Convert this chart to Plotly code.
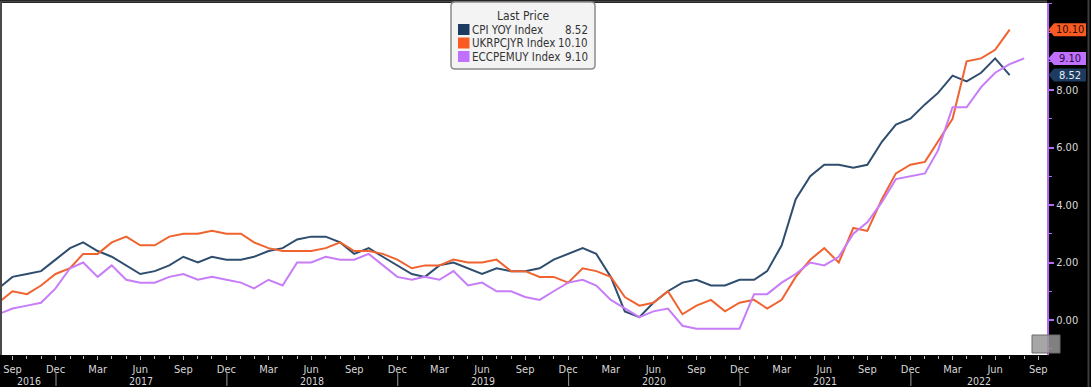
import pandas as pd
import plotly.graph_objects as go

# ---------------- data (monthly, YoY %) ----------------
start_month = "2016-08"
series_names = ["CPI YOY Index", "UKRPCJYR Index", "ECCPEMUY Index"]
legend_title = "Last Price"

cpi_yoy = [1.1, 1.5, 1.6, 1.7, 2.1,
           2.5, 2.7, 2.4, 2.2, 1.9, 1.6, 1.7, 1.9, 2.2, 2.0, 2.2, 2.1,
           2.1, 2.2, 2.4, 2.5, 2.8, 2.9, 2.9, 2.7, 2.3, 2.5, 2.2, 1.9,
           1.6, 1.5, 1.9, 2.0, 1.8, 1.6, 1.8, 1.7, 1.7, 1.8, 2.1, 2.3,
           2.5, 2.3, 1.5, 0.3, 0.1, 0.6, 1.0, 1.3, 1.4, 1.2, 1.2, 1.4,
           1.4, 1.7, 2.6, 4.2, 5.0, 5.4, 5.4, 5.3, 5.4, 6.2, 6.8, 7.0,
           7.5, 7.9, 8.5, 8.3, 8.6, 9.1, 8.52]

uk_cpi = [0.6, 1.0, 0.9, 1.2, 1.6,
          1.8, 2.3, 2.3, 2.7, 2.9, 2.6, 2.6, 2.9, 3.0, 3.0, 3.1, 3.0,
          3.0, 2.7, 2.5, 2.4, 2.4, 2.4, 2.5, 2.7, 2.4, 2.4, 2.3, 2.1,
          1.8, 1.9, 1.9, 2.1, 2.0, 2.0, 2.1, 1.7, 1.7, 1.5, 1.5, 1.3,
          1.8, 1.7, 1.5, 0.8, 0.5, 0.6, 1.0, 0.2, 0.5, 0.7, 0.3, 0.6,
          0.7, 0.4, 0.7, 1.5, 2.1, 2.5, 2.0, 3.2, 3.1, 4.2, 5.1, 5.4,
          5.5, 6.2, 7.0, 9.0, 9.1, 9.4, 10.10]

ez_hicp = [0.2, 0.4, 0.5, 0.6, 1.1,
           1.8, 2.0, 1.5, 1.9, 1.4, 1.3, 1.3, 1.5, 1.6, 1.4, 1.5, 1.4,
           1.3, 1.1, 1.4, 1.2, 2.0, 2.0, 2.2, 2.1, 2.1, 2.3, 1.9, 1.5,
           1.4, 1.5, 1.4, 1.7, 1.2, 1.3, 1.0, 1.0, 0.8, 0.7, 1.0, 1.3,
           1.4, 1.2, 0.7, 0.4, 0.1, 0.3, 0.4, -0.2, -0.3, -0.3, -0.3, -0.3,
           0.9, 0.9, 1.3, 1.6, 2.0, 1.9, 2.2, 3.0, 3.4, 4.1, 4.9, 5.0,
           5.1, 5.9, 7.4, 7.4, 8.1, 8.6, 8.9, 9.10]

line_colors = ["#2f4d6e", "#f0632f", "#c77cf8"]
chip_colors = ["#1d3b60", "#fb5a22", "#c070ff"]
callout_text_colors = ["#e8eef5", "#2a0e04", "#2a0b3d"]
y_tick_values = [0, 2, 4, 6, 8]
month_tick_months = {3: "Mar", 6: "Jun", 9: "Sep", 12: "Dec"}


def month_ends(n):
    return pd.period_range(start_month, periods=n, freq="M").to_timestamp(how="end").normalize()


# ---------------- geometry ----------------
W, H = 1091, 387
PL, PR, PT, PB = 2, 1047, 3, 355          # plot area in pixels
PW, PH = PR - PL, PB - PT
anchor = pd.Timestamp("2017-01-01")
px_per_day = 171 / 365.25
x_start = anchor - pd.Timedelta(days=(56 - PL) / px_per_day)
x_end = anchor + pd.Timedelta(days=(PR - 56) / px_per_day)
px_per_unit = 28.75
y_min = -(PB - 320) / px_per_unit
y_max = (320 - PT) / px_per_unit


def px(x):
    return (x - PL) / PW


def py(y):
    return (PB - y) / PH


def vy(v):
    return (v - y_min) / (y_max - y_min)


FONT = "DejaVu Sans Condensed, DejaVu Sans, sans-serif"

fig = go.Figure()
for name, vals, col in zip(series_names, [cpi_yoy, uk_cpi, ez_hicp], line_colors):
    fig.add_trace(go.Scatter(x=month_ends(len(vals)), y=vals, mode="lines", name=name,
                             line=dict(color=col, width=2), showlegend=False))

all_months = pd.period_range(x_start, x_end, freq="M").to_timestamp(how="end").normalize()
all_months = [d for d in all_months if x_start <= d <= x_end]
major = [d for d in all_months if d.month in month_tick_months]

fig.update_layout(
    width=W, height=H,
    margin=dict(l=PL, r=W - PR, t=PT, b=H - PB),
    paper_bgcolor="#000000", plot_bgcolor="#ffffff",
    font=dict(family=FONT),
    xaxis=dict(range=[x_start, x_end], showgrid=False, zeroline=False,
               tickmode="array", tickvals=major,
               ticktext=[month_tick_months[d.month] for d in major],
               ticks="outside", ticklen=4, tickcolor="#bdbdbd", tickwidth=1,
               tickfont=dict(color="#d6d6d6", size=11, family=FONT),
               minor=dict(tickmode="array", tickvals=all_months, ticks="outside",
                          ticklen=3, tickcolor="#bdbdbd", tickwidth=1),
               showline=False, fixedrange=True),
    yaxis=dict(range=[y_min, y_max], side="right", showgrid=False, zeroline=False,
               tickmode="array", tickvals=y_tick_values,
               ticktext=[f"{v:.2f}" for v in y_tick_values],
               ticks="outside", ticklen=5, tickwidth=2, tickcolor="#b56cf2",
               tickfont=dict(color="#dadada", size=11, family=FONT),
               minor=dict(dtick=1, tick0=0, ticks="outside", ticklen=3,
                          tickcolor="#b56cf2", tickwidth=1),
               showline=True, linecolor="#b56cf2", linewidth=2),
)

shapes = []
annotations = []

# plot frame (top and left)
shapes.append(dict(type="line", xref="paper", yref="paper", x0=px(0), x1=px(PR),
                   y0=py(1.5), y1=py(1.5), line=dict(color="#4a4a4a", width=2)))
shapes.append(dict(type="line", xref="paper", yref="paper", x0=px(1), x1=px(1),
                   y0=py(1), y1=py(PB), line=dict(color="#4a4a4a", width=2)))
# right edge border
shapes.append(dict(type="line", xref="paper", yref="paper", x0=px(1088.5), x1=px(1088.5),
                   y0=py(0), y1=py(H), line=dict(color="#3c3c3c", width=2)))

# year separators and labels
years = list(range(x_start.year, x_end.year + 1))
for yr in years:
    jan1 = pd.Timestamp(f"{yr}-01-01")
    if x_start < jan1 < x_end:
        shapes.append(dict(type="line", xref="x", yref="paper", x0=jan1, x1=jan1,
                           y0=py(372), y1=py(386), line=dict(color="#9a9a9a", width=1)))
    lo = max(jan1, x_start)
    hi = min(pd.Timestamp(f"{yr + 1}-01-01"), x_end)
    mid = lo + (hi - lo) / 2
    annotations.append(dict(xref="x", yref="paper", x=mid, y=py(380.5), text=str(yr),
                            showarrow=False, xanchor="center", yanchor="middle", borderpad=0,
                            font=dict(color="#d6d6d6", size=10.5, family=FONT)))

# right-hand last value callouts
for vals, col, tcol in zip([uk_cpi, ez_hicp, cpi_yoy],
                           [chip_colors[1], chip_colors[2], chip_colors[0]],
                           [callout_text_colors[1], callout_text_colors[2], callout_text_colors[0]]):
    v = vals[-1]
    yc = vy(v)
    hh = 6.5 / PH
    path = (f"M {px(1048.5)} {yc} L {px(1054)} {yc + hh} L {px(1086)} {yc + hh} "
            f"L {px(1086)} {yc - hh} L {px(1054)} {yc - hh} Z")
    shapes.append(dict(type="path", xref="paper", yref="paper", path=path,
                       fillcolor=col, line=dict(width=0)))
    annotations.append(dict(xref="paper", yref="paper", x=px(1069.5), y=yc, text=f"{v:.2f}",
                            showarrow=False, xanchor="center", yanchor="middle",
                            font=dict(color=tcol, size=11, family=FONT)))

# legend box (rounded rectangle)
bx0, bx1, by0, by1, r = 451, 595, 2, 69, 4
lp = (f"M {px(bx0 + r)} {py(by0)} L {px(bx1 - r)} {py(by0)} "
      f"Q {px(bx1)} {py(by0)} {px(bx1)} {py(by0 + r)} L {px(bx1)} {py(by1 - r)} "
      f"Q {px(bx1)} {py(by1)} {px(bx1 - r)} {py(by1)} L {px(bx0 + r)} {py(by1)} "
      f"Q {px(bx0)} {py(by1)} {px(bx0)} {py(by1 - r)} L {px(bx0)} {py(by0 + r)} "
      f"Q {px(bx0)} {py(by0)} {px(bx0 + r)} {py(by0)} Z")
shapes.append(dict(type="path", xref="paper", yref="paper", path=lp,
                   fillcolor="#f3f3f3", line=dict(color="#8a8a8a", width=1.5)))
annotations.append(dict(xref="paper", yref="paper", x=px(523), y=py(16), text=legend_title,
                        showarrow=False, xanchor="center", yanchor="middle",
                        font=dict(color="#333333", size=12, family=FONT)))
row_y = [29.5, 43, 56.5]
for name, vals, col, ry in zip(series_names, [cpi_yoy, uk_cpi, ez_hicp], chip_colors, row_y):
    shapes.append(dict(type="rect", xref="paper", yref="paper", x0=px(458), x1=px(469.5),
                       y0=py(ry - 5.5), y1=py(ry + 5.5), fillcolor=col, line=dict(width=0)))
    annotations.append(dict(xref="paper", yref="paper", x=px(470), y=py(ry), text=name,
                            showarrow=False, xanchor="left", yanchor="middle",
                            font=dict(color="#333333", size=11.5, family=FONT)))
    annotations.append(dict(xref="paper", yref="paper", x=px(590), y=py(ry), text=f"{vals[-1]:.2f}",
                            showarrow=False, xanchor="right", yanchor="middle",
                            font=dict(color="#333333", size=11.5, family=FONT)))

# small chart icon at the bottom-right corner
shapes.append(dict(type="rect", xref="paper", yref="paper", x0=px(1032), x1=px(1060),
                   y0=py(353), y1=py(335), fillcolor="rgba(150,150,150,0.85)",
                   line=dict(color="#6a6a6a", width=1)))

fig.update_layout(shapes=shapes, annotations=annotations)
fig.write_html("out.html", config={"displayModeBar": False},
               post_script="document.body.style.margin='0px';document.body.style.background='#000';")
